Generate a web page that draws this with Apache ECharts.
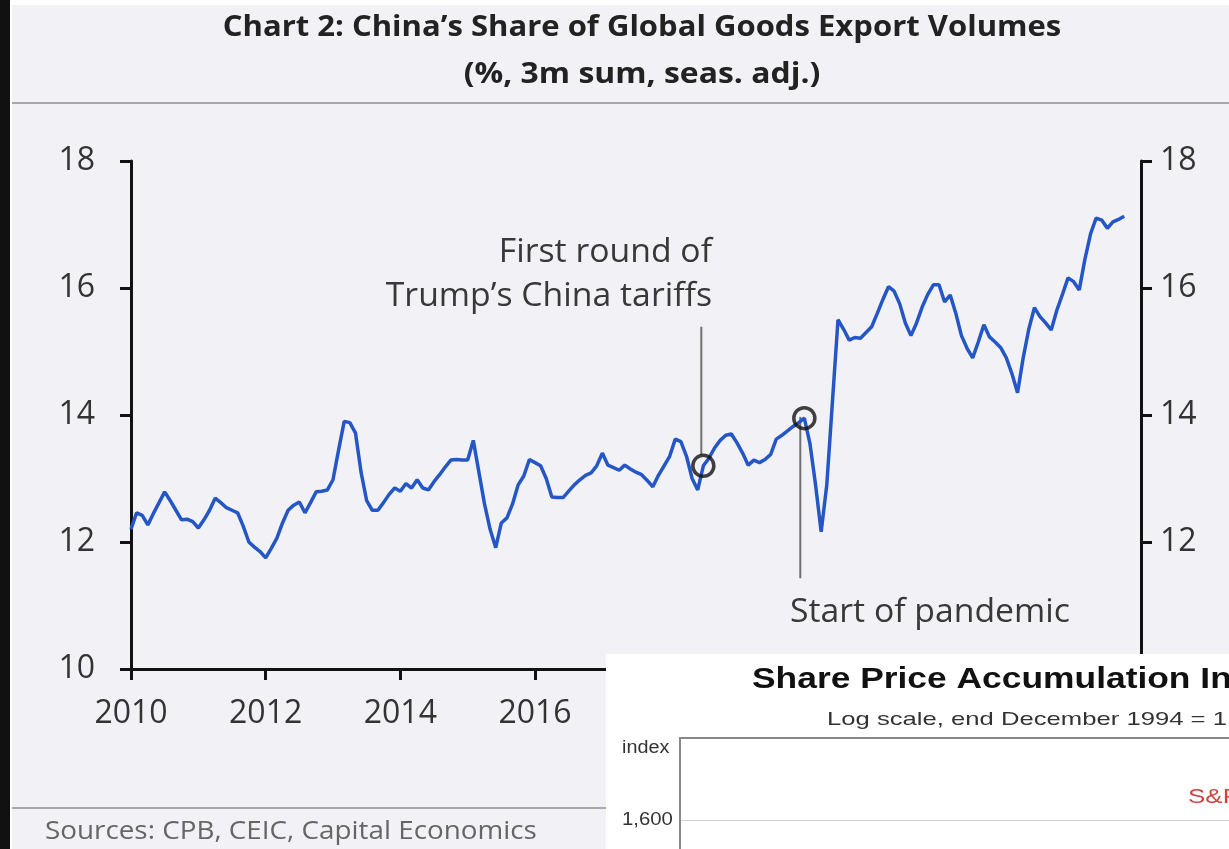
<!DOCTYPE html>
<html>
<head>
<meta charset="utf-8">
<script src="https://cdn.jsdelivr.net/npm/echarts@6/dist/echarts.min.js"></script>
<style>
html,body{margin:0;padding:0;background:#f2f2f6;}
#c{width:1229px;height:849px;}
</style>
</head>
<body>
<div id="c"></div>
<script>
// ---- DATA ----
var startYear = 2010;
var v2010 = [12.2, 12.46, 12.42, 12.27, 12.45, 12.62, 12.79, 12.65, 12.5, 12.35, 12.36, 12.32];
var v2011 = [12.22, 12.35, 12.5, 12.69, 12.62, 12.54, 12.5, 12.46, 12.25, 12.0, 11.92, 11.85];
var v2012 = [11.75, 11.9, 12.06, 12.3, 12.5, 12.58, 12.63, 12.46, 12.62, 12.79, 12.8, 12.82];
var v2013 = [12.98, 13.45, 13.9, 13.88, 13.72, 13.1, 12.65, 12.5, 12.5, 12.62, 12.75, 12.85];
var v2014 = [12.8, 12.92, 12.85, 12.98, 12.85, 12.82, 12.95, 13.06, 13.18, 13.29, 13.3, 13.29];
var v2015 = [13.29, 13.6, 13.1, 12.6, 12.2, 11.91, 12.3, 12.38, 12.6, 12.9, 13.04, 13.3];
var v2016 = [13.25, 13.2, 13.0, 12.71, 12.7, 12.7, 12.8, 12.9, 12.98, 13.05, 13.09, 13.2];
var v2017 = [13.4, 13.21, 13.17, 13.13, 13.21, 13.15, 13.1, 13.06, 12.97, 12.87, 13.05, 13.2];
var v2018 = [13.35, 13.62, 13.58, 13.35, 13.0, 12.82, 13.2, 13.32, 13.48, 13.6, 13.68, 13.7];
var v2019 = [13.56, 13.4, 13.21, 13.29, 13.25, 13.3, 13.38, 13.62, 13.68, 13.75, 13.82, 13.88];
var v2020 = [13.95, 13.55, 12.9, 12.16, 12.9, 14.2, 15.5, 15.35, 15.18, 15.22, 15.21, 15.3];
var v2021 = [15.39, 15.6, 15.82, 16.02, 15.95, 15.75, 15.45, 15.25, 15.45, 15.7, 15.9, 16.05];
var v2022 = [16.05, 15.78, 15.89, 15.6, 15.25, 15.05, 14.9, 15.15, 15.42, 15.23, 15.15, 15.06];
var v2023 = [14.9, 14.65, 14.35, 14.9, 15.35, 15.69, 15.55, 15.45, 15.34, 15.65, 15.9, 16.16];
var v2024 = [16.1, 15.97, 16.45, 16.85, 17.1, 17.07, 16.94, 17.04, 17.08, 17.13];
var yTicks = [10, 12, 14, 16, 18];
var xTicks = [2010, 2012, 2014, 2016, 2018, 2020, 2022, 2024];
var events = [
  {name: "First round of Trump's China tariffs", year: 2018.5, value: 13.2},
  {name: "Start of pandemic", year: 2020.0, value: 13.95}
];
// ---- END DATA ----

var allYears = [v2010, v2011, v2012, v2013, v2014, v2015, v2016, v2017, v2018, v2019, v2020, v2021, v2022, v2023, v2024];
var seriesData = [];
var idx = 0;
allYears.forEach(function (arr) {
  arr.forEach(function (v) {
    seriesData.push([startYear + idx / 12, v]);
    idx++;
  });
});

var chart = echarts.init(document.getElementById('c'), null, {renderer: 'canvas'});
var FONT = '"Open Sans"';
var axisCommon = {
  axisLine: {show: true, lineStyle: {color: '#111', width: 3}},
  axisTick: {show: true, inside: false, length: 11, lineStyle: {color: '#111', width: 3}},
  splitLine: {show: false}
};

var option = {
  backgroundColor: '#f2f2f6',
  animation: false,
  grid: {left: 131, right: 88, top: 161, bottom: 180, containLabel: false},
  xAxis: Object.assign({
    type: 'value', min: 2010, max: 2025, interval: 2,
    axisLabel: {
      color: '#333', fontFamily: FONT, fontSize: 32, margin: 29,
      formatter: function (v) { return xTicks.indexOf(v) >= 0 ? String(v) : ''; }
    }
  }, axisCommon),
  yAxis: [
    Object.assign({
      type: 'value', min: yTicks[0], max: yTicks[yTicks.length - 1], interval: 2, position: 'left',
      axisLabel: {color: '#333', fontFamily: FONT, fontSize: 32, margin: 36}
    }, axisCommon),
    Object.assign({
      type: 'value', min: yTicks[0], max: yTicks[yTicks.length - 1], interval: 2, position: 'right',
      axisLabel: {color: '#333', fontFamily: FONT, fontSize: 32, margin: 19}
    }, axisCommon)
  ],
  series: [
    {
      type: 'line', data: seriesData, showSymbol: false, z: 3,
      lineStyle: {color: '#2457c5', width: 3.5}
    },
    {
      type: 'line', data: [[2018.47, 15.39], [2018.47, 13.37]], showSymbol: false, z: 2,
      lineStyle: {color: '#707070', width: 2}
    },
    {
      type: 'line', data: [[2019.94, 13.97], [2019.94, 11.43]], showSymbol: false, z: 2,
      lineStyle: {color: '#707070', width: 2}
    },
    {
      type: 'scatter', z: 4,
      data: events.map(function (e) { return [e.year, e.value]; }),
      symbol: 'circle', symbolSize: 21,
      itemStyle: {color: 'rgba(0,0,0,0)', borderColor: '#111', borderWidth: 3.5}
    }
  ],
  graphic: [
    {type: 'rect', shape: {x: 0, y: 0, width: 10, height: 849}, style: {fill: '#111'}, z: 50},
    {type: 'rect', shape: {x: 10, y: 0, width: 2, height: 849}, style: {fill: '#ffffff'}, z: 50},
    {type: 'rect', shape: {x: 12, y: 0, width: 1217, height: 5}, style: {fill: '#ffffff'}, z: 50},
    {type: 'text', x: 642, y: 28, scaleX: 1.07, style: {text: 'Chart 2: China\u2019s Share of Global Goods Export Volumes', font: 'bold 29px "Open Sans"', fill: '#222', align: 'center', verticalAlign: 'middle'}, z: 50},
    {type: 'text', x: 642, y: 75, scaleX: 1.1, style: {text: '(%, 3m sum, seas. adj.)', font: 'bold 29px "Open Sans"', fill: '#222', align: 'center', verticalAlign: 'middle'}, z: 50},
    {type: 'rect', shape: {x: 12, y: 102, width: 1217, height: 2}, style: {fill: '#a8a8ac'}, z: 50},
    {type: 'text', x: 712, y: 253, scaleX: 1.055, style: {text: 'First round of', font: '32px "Open Sans"', fill: '#383838', align: 'right', verticalAlign: 'middle'}, z: 50},
    {type: 'text', x: 712, y: 297, scaleX: 1.055, style: {text: 'Trump\u2019s China tariffs', font: '32px "Open Sans"', fill: '#383838', align: 'right', verticalAlign: 'middle'}, z: 50},
    {type: 'text', x: 790, y: 613, scaleX: 1.055, style: {text: 'Start of pandemic', font: '32px "Open Sans"', fill: '#383838', align: 'left', verticalAlign: 'middle'}, z: 50},
    {type: 'rect', shape: {x: 12, y: 807, width: 1217, height: 2}, style: {fill: '#a8a8ac'}, z: 50},
    {type: 'text', x: 45, y: 832, scaleX: 1.07, style: {text: 'Sources: CPB, CEIC, Capital Economics', font: '26px "Open Sans"', fill: '#666', align: 'left', verticalAlign: 'middle'}, z: 50},
    // overlaid second screenshot panel
    {type: 'rect', shape: {x: 606, y: 654, width: 623, height: 195}, style: {fill: '#ffffff'}, z: 100},
    {type: 'text', x: 752, y: 680, scaleX: 1.22, style: {text: 'Share Price Accumulation Index', font: 'bold 29px "Liberation Sans"', fill: '#111', align: 'left', verticalAlign: 'middle'}, z: 101},
    {type: 'text', x: 827, y: 720, scaleX: 1.35, style: {text: 'Log scale, end December 1994 = 1', font: '19px "Liberation Sans"', fill: '#333', align: 'left', verticalAlign: 'middle'}, z: 101},
    {type: 'text', x: 622, y: 748, scaleX: 1.1, style: {text: 'index', font: '18px "Liberation Sans"', fill: '#333', align: 'left', verticalAlign: 'middle'}, z: 101},
    {type: 'text', x: 622, y: 820, scaleX: 1.13, style: {text: '1,600', font: '18px "Liberation Sans"', fill: '#333', align: 'left', verticalAlign: 'middle'}, z: 101},
    {type: 'rect', shape: {x: 680, y: 820, width: 549, height: 1}, style: {fill: '#d0d0d0'}, z: 101},
    {type: 'rect', shape: {x: 679, y: 737, width: 550, height: 2}, style: {fill: '#888'}, z: 102},
    {type: 'rect', shape: {x: 679, y: 737, width: 2, height: 112}, style: {fill: '#888'}, z: 102},
    {type: 'text', x: 1188, y: 797, scaleX: 1.3, style: {text: 'S&P 500', font: '20px "Liberation Sans"', fill: '#d0443e', align: 'left', verticalAlign: 'middle'}, z: 101}
  ]
};
chart.setOption(option);
</script>
</body>
</html>
